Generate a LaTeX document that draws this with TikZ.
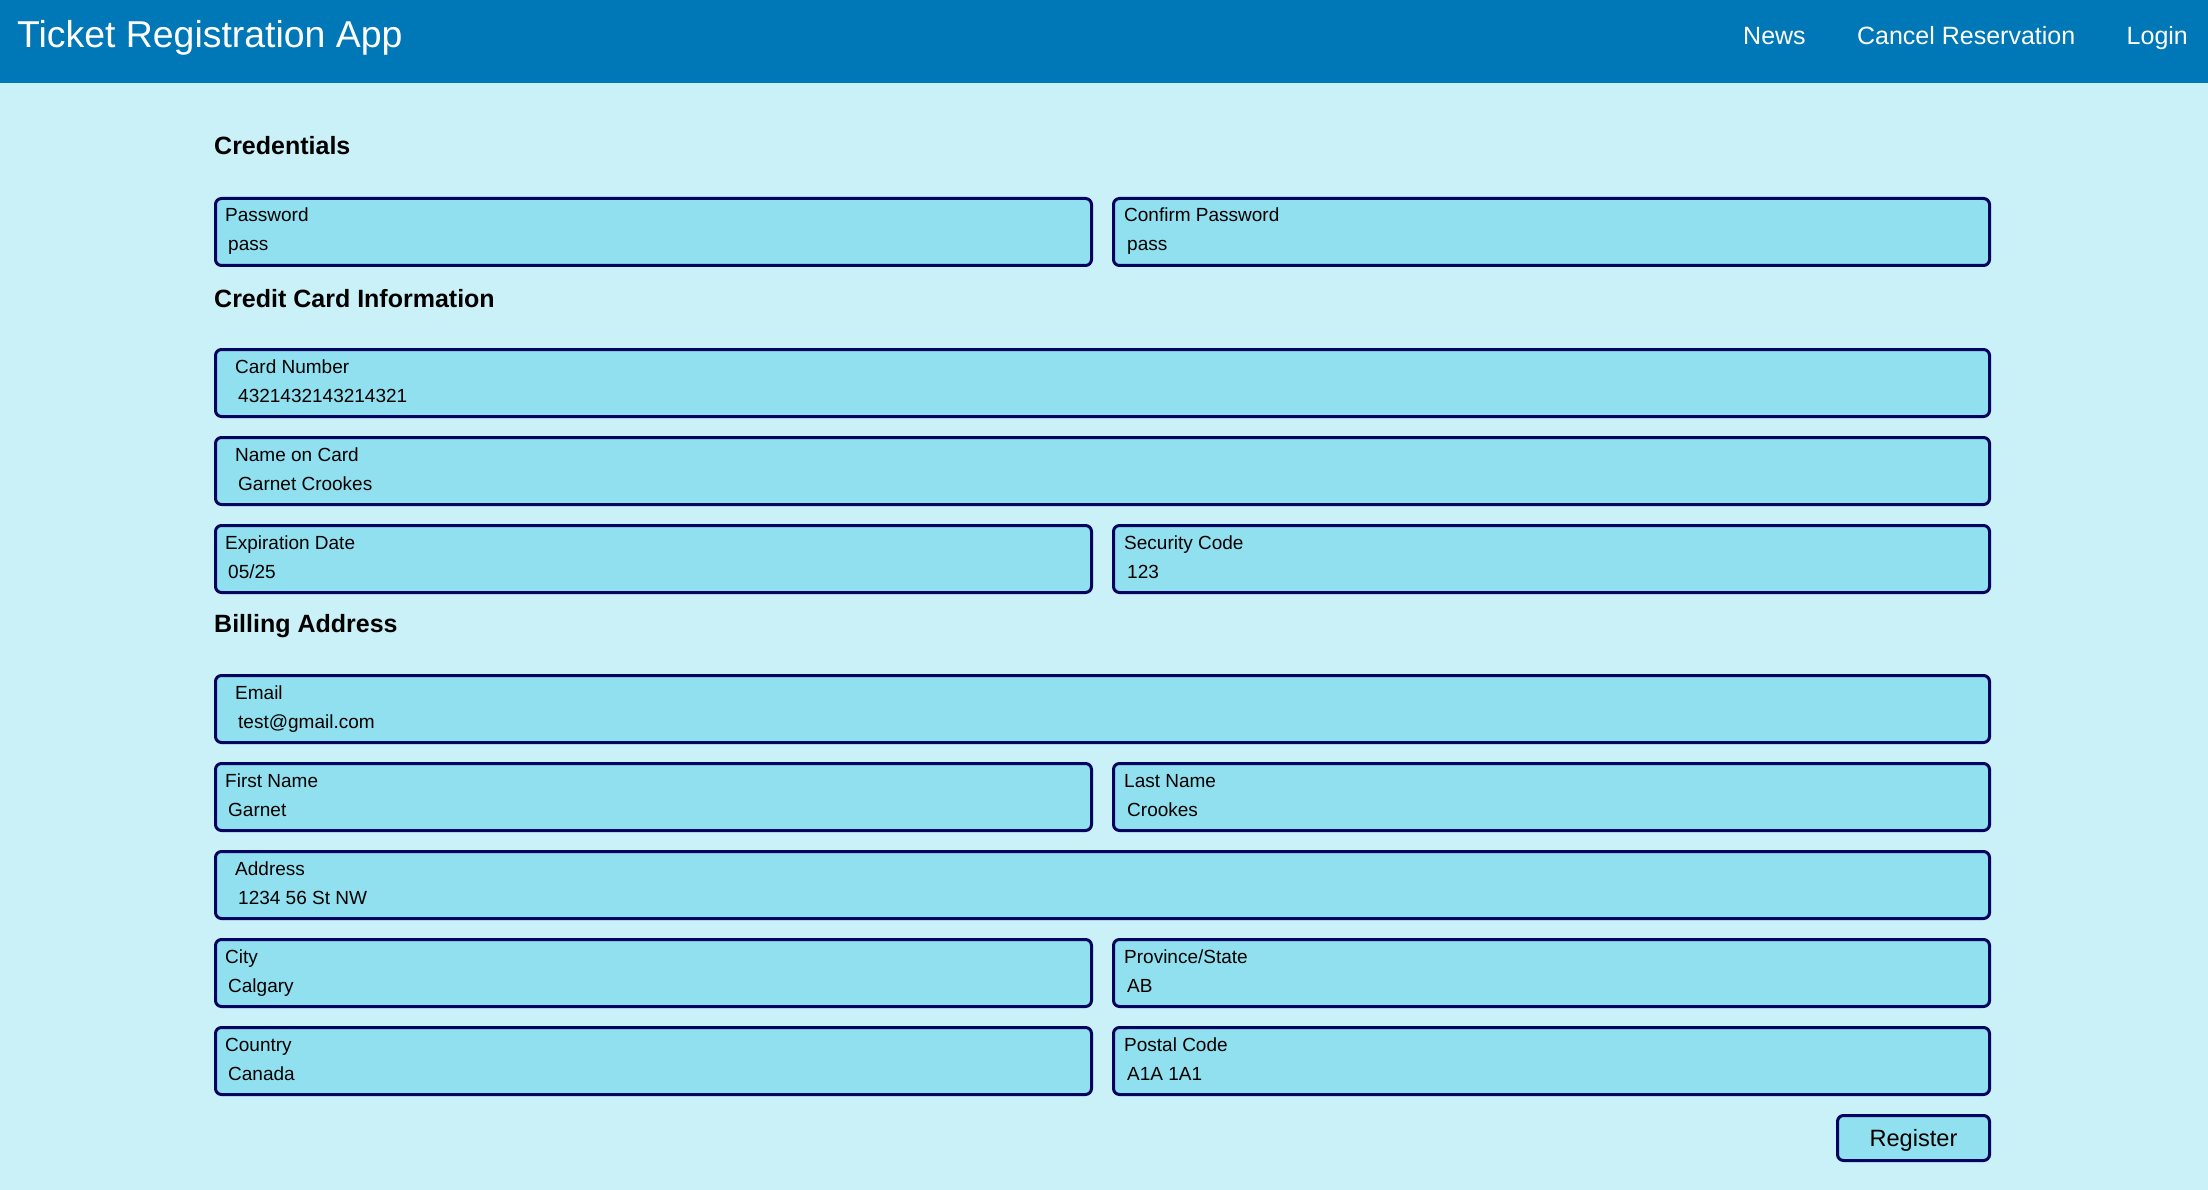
\documentclass[tikz,border=0pt]{standalone}
\usepackage{fontspec}
\setmainfont{Liberation Sans}
\usetikzlibrary{positioning}
\definecolor{barblue}{HTML}{0077B6}
\definecolor{pagecyan}{HTML}{CAF0F8}
\definecolor{fieldcyan}{HTML}{90E0EF}
\definecolor{navy}{HTML}{03045E}
\tikzstyle{field}     = [rectangle, rounded corners=6pt, draw=navy, line width=3pt, fill=fieldcyan,
                         anchor=north west, minimum height=67pt, inner sep=0pt]
\tikzstyle{navtext}   = [anchor=base west, inner sep=0pt, text=white, font=\fontsize{25}{30}\selectfont]
\tikzstyle{heading}   = [anchor=base west, inner sep=0pt, font=\fontsize{25}{30}\selectfont\bfseries]
\tikzstyle{fieldtext} = [anchor=base west, inner sep=0pt, font=\fontsize{19}{23}\selectfont]

\begin{document}
\begin{tikzpicture}[x=1pt, y=-1pt]
		\fill[pagecyan] (0,0) rectangle (2208,1190);
		\fill[barblue] (0,0) rectangle (2208,83);
		\useasboundingbox (0,0) rectangle (2208,1190);

		% top bar
		\node[navtext, font=\fontsize{37.4}{44}\selectfont] (T) at (17,48) {Ticket Registration App};
		\node[navtext] (N) at (1743,45) {News};
		\node[navtext, base right=51pt of N] (C) {Cancel Reservation};
		\node[navtext, base right=51pt of C] (L) {Login};

		% sections
		\node[heading] (H1) at (214,155) {Credentials};
		\node[heading] (H2) at (214,307) {Credit Card Information};
		\node[heading] (H3) at (214,632) {Billing Address};

		% input fields
		\foreach \n/\x/\y/\w/\i/\lab/\val in {
				pw/214/197/876/11/Password/pass,
				cpw/1112/197/876/12/Confirm Password/pass,
				card/214/348/1774/21/Card Number/4321432143214321,
				name/214/436/1774/21/Name on Card/Garnet Crookes,
				exp/214/524/876/11/Expiration Date/{05/25},
				sec/1112/524/876/12/Security Code/123,
				mail/214/674/1774/21/Email/test@gmail.com,
				first/214/762/876/11/First Name/Garnet,
				last/1112/762/876/12/Last Name/Crookes,
				addr/214/850/1774/21/Address/1234 56 St NW,
				city/214/938/876/11/City/Calgary,
				prov/1112/938/876/12/{Province/State}/AB,
				ctry/214/1026/876/11/Country/Canada,
				post/1112/1026/876/12/Postal Code/A1A 1A1} {
				\node[field, minimum width=\w pt] (\n) at (\x,\y) {};
				\node[fieldtext] (\n-l) at ([shift={(\i pt,-25pt)}]\n.north west) {\lab};
				\node[fieldtext] (\n-v) at ([shift={({\i pt+3pt},-54pt)}]\n.north west) {\val};
			}

		% button
		\node[field, anchor=center, minimum width=152pt, minimum height=45pt,
			text height=17pt, text depth=0pt, font=\fontsize{23.6}{28}\selectfont] (R) at (1913.5,1138) {Register};
	\end{tikzpicture}
\end{document}
